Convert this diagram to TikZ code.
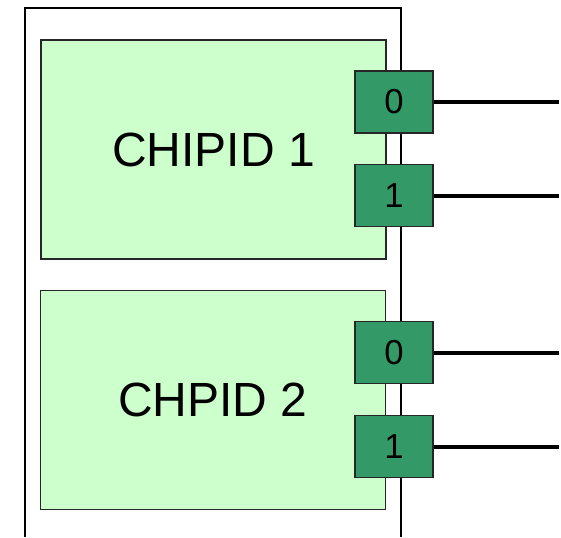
\documentclass[tikz,border=0pt]{standalone}
\usepackage{xcolor}
\usepackage{fontspec}
\setmainfont{Liberation Sans}
\usepackage{tikz}
\usetikzlibrary{positioning}
\definecolor{chipfill}{HTML}{CCFFCC}
\definecolor{portfill}{HTML}{339966}

\begin{document}
\begin{tikzpicture}[x=0.75pt, y=-0.75pt,
    chip/.style={draw=black!85, fill=chipfill, line width=0.9pt, minimum width=258.75pt, minimum height=164.25pt, font=\fontsize{36}{38}\selectfont},
    port/.style={draw=black!85, fill=portfill, line width=0.9pt, minimum width=58.5pt, minimum height=46.5pt, font=\fontsize{26}{28}\selectfont},
    link/.style={line width=3pt}]
                \useasboundingbox (0,0) rectangle (561,537);
                % Frame
                \draw[line width=1.1pt] (25,537) -- (25,8) -- (401,8) -- (401,537);
                % Chips
                \node[chip] (chipa) at (213.5,149.5) {CHIPID 1};
                \node[chip] (chipb) at (213,400) {CHPID 2};
                % Ports
                \node[port] (porta0) at (394,102) {0};
                \node[port] (porta1) at (394,195.5) {1};
                \node[port] (portb0) at (394,352.5) {0};
                \node[port] (portb1) at (394,446.5) {1};
                % Line ends
                \coordinate (enda0) at (559,102);
                \coordinate (enda1) at (559,195.5);
                \coordinate (endb0) at (559,352.5);
                \coordinate (endb1) at (559,446.5);
                % Links
                \draw[link] (porta0.east) -- (enda0);
                \draw[link] (porta1.east) -- (enda1);
                \draw[link] (portb0.east) -- (endb0);
                \draw[link] (portb1.east) -- (endb1);
            \end{tikzpicture}
\end{document}
